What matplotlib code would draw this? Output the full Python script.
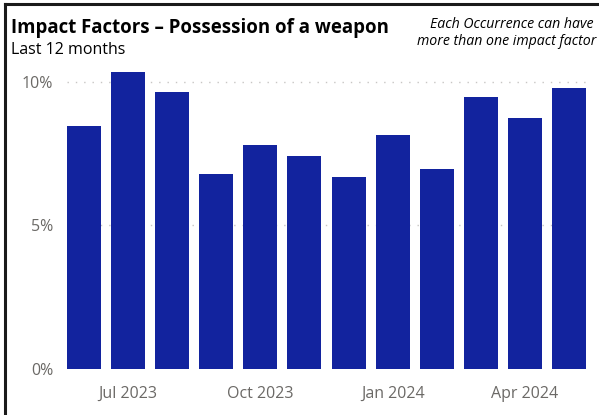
#!/usr/bin/env python3
"""Monthly share of occurrences with 'Possession of a weapon' impact factor."""

import matplotlib

matplotlib.use("Agg")
import matplotlib.pyplot as plt
from matplotlib.lines import Line2D
from matplotlib.ticker import FuncFormatter

months = ["Jun 2023", "Jul 2023", "Aug 2023", "Sep 2023", "Oct 2023", "Nov 2023",
          "Dec 2023", "Jan 2024", "Feb 2024", "Mar 2024", "Apr 2024", "May 2024"]
share_pct = [8.48, 10.34, 9.66, 6.79, 7.79, 7.41, 6.68, 8.16, 6.98, 9.48, 8.73, 9.78]
tick_months = ["Jul 2023", "Oct 2023", "Jan 2024", "Apr 2024"]
y_ticks = [0, 5, 10]

BAR = "#12239E"
GREY = "#6b6966"

fig = plt.figure(figsize=(5.99, 4.15), dpi=100)
ax = fig.add_axes([0.1119, 0.111, 0.8664, 0.719])

positions = list(range(len(months)))
ax.bar(positions, share_pct, width=0.77, color=BAR, zorder=3)
ax.set_xlim(-0.385, len(months) - 1 + 0.385)
ax.set_ylim(0, 10.4)

ax.set_xticks([months.index(m) for m in tick_months])
ax.set_xticklabels(tick_months)
ax.set_yticks(y_ticks)
ax.yaxis.set_major_formatter(FuncFormatter(lambda v, _: f"{v:.0f}%"))
ax.tick_params(axis="both", length=0, labelsize=11.5, labelcolor=GREY)
ax.tick_params(axis="y", pad=10)
ax.tick_params(axis="x", pad=12)
for label in ax.get_xticklabels() + ax.get_yticklabels():
    label.set_fontfamily("Open Sans")

for v in y_ticks[1:]:
    ax.axhline(v, color="#C8C6C4", linewidth=1.0, linestyle=(0, (1, 5)), zorder=1)

for side in ("top", "right", "bottom", "left"):
    ax.spines[side].set_visible(False)

fig.text(0.0184, 0.932, "Impact Factors \u2013 Possession of a weapon", fontsize=13.4,
         fontweight="bold", family="Open Sans", va="center", ha="left", color="#000000")
fig.text(0.0184, 0.880, "Last 12 months", fontsize=11.5, family="Open Sans",
         va="center", ha="left", color="#000000")
fig.text(0.990, 0.941, "Each Occurrence can have", fontsize=10.2, style="italic",
         family="Open Sans", va="center", ha="right", color="#000000")
fig.text(0.996, 0.900, "more than one impact factor", fontsize=10.2, style="italic",
         family="Open Sans", va="center", ha="right", color="#000000")

# frame: left and top edges only
fig.add_artist(Line2D([0.0085, 0.0085], [0.0, 0.99], transform=fig.transFigure,
                      color="#1a1a1a", linewidth=2.2))
fig.add_artist(Line2D([0.0085, 1.0], [0.99, 0.99], transform=fig.transFigure,
                      color="#1a1a1a", linewidth=2.2))

fig.savefig("out.png", dpi=100)
plt.close(fig)
